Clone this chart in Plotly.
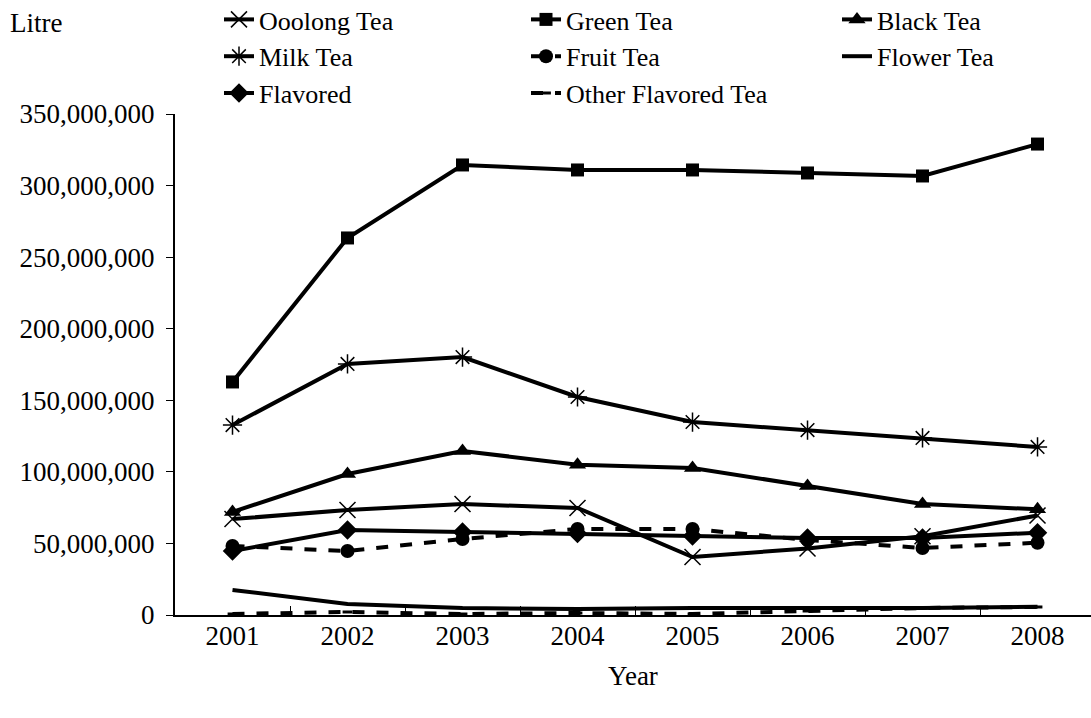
import plotly.graph_objects as go

years = ["2001", "2002", "2003", "2004", "2005", "2006", "2007", "2008"]

oolong_tea = [67.0e6, 73.4e6, 77.5e6, 74.8e6, 40.5e6, 46.5e6, 55.0e6, 69.5e6]
green_tea = [162.8e6, 263.4e6, 314.4e6, 310.9e6, 310.9e6, 308.8e6, 306.7e6, 329.0e6]
black_tea = [72.0e6, 98.5e6, 114.6e6, 105.0e6, 102.7e6, 90.1e6, 77.5e6, 73.8e6]
milk_tea = [132.7e6, 175.4e6, 180.2e6, 152.3e6, 134.8e6, 129.2e6, 123.7e6, 117.4e6]
fruit_tea = [48.2e6, 44.7e6, 53.1e6, 60.1e6, 60.1e6, 52.4e6, 46.8e6, 50.5e6]
flower_tea = [17.5e6, 7.7e6, 4.9e6, 4.2e6, 4.9e6, 4.9e6, 4.9e6, 5.8e6]
flavored = [44.7e6, 59.4e6, 58.0e6, 56.9e6, 55.2e6, 53.8e6, 53.8e6, 57.5e6]
other_flavored_tea = [0.7e6, 2.1e6, 0.7e6, 1.4e6, 0.7e6, 2.8e6, 4.9e6, 5.6e6]

FONT = "Liberation Serif, Times New Roman, serif"
FS = 27
LEG_FS = 26
BLACK = "#000000"

# name, values, line dash, marker, legend column
series = [
    ("Ooolong Tea", oolong_tea, "solid",
     dict(symbol="x-thin-open", size=16, line=dict(color=BLACK, width=1.5)), "legend"),
    ("Green Tea", green_tea, "solid",
     dict(symbol="square", size=13, color=BLACK), "legend2"),
    ("Black Tea", black_tea, "solid",
     dict(symbol="triangle-up", size=15, color=BLACK), "legend3"),
    ("Milk Tea", milk_tea, "solid",
     dict(symbol="asterisk-open", size=16, line=dict(color=BLACK, width=1.5)), "legend"),
    ("Fruit Tea", fruit_tea, "dash",
     dict(symbol="circle", size=14, color=BLACK), "legend2"),
    ("Flower Tea", flower_tea, "solid", None, "legend3"),
    ("Flavored", flavored, "solid",
     dict(symbol="diamond", size=15, color=BLACK), "legend"),
    ("Other Flavored Tea", other_flavored_tea, "dash",
     dict(symbol="line-ew-open", size=7, line=dict(color="#0000ff", width=3)), "legend2"),
]

fig = go.Figure()
for name, vals, dash, marker, leg in series:
    fig.add_trace(go.Scatter(
        x=years, y=vals, name=name, legend=leg,
        mode="lines+markers" if marker else "lines",
        line=dict(color=BLACK, width=4, dash=dash),
        marker=marker,
        cliponaxis=False,
    ))

L, T, B = 175, 114, 103
PLOT_W = 1091 - L
PLOT_H = 718 - T - B


def px_x(px):
    return (px - L) / PLOT_W


def px_y(px):
    return 1 + (T - px) / PLOT_H


def legend_box(left_px):
    return dict(
        orientation="v", x=px_x(left_px), xanchor="left",
        y=px_y(-4), yanchor="top",
        font=dict(family=FONT, size=LEG_FS, color=BLACK),
        itemwidth=30, tracegroupgap=0, borderwidth=0,
        bgcolor="rgba(0,0,0,0)",
    )


fig.update_layout(
    width=1091, height=718,
    margin=dict(l=L, r=0, t=T, b=B, autoexpand=False),
    paper_bgcolor="white", plot_bgcolor="white",
    font=dict(family=FONT, size=FS, color=BLACK),
    showlegend=True,
    legend=legend_box(219),
    legend2=legend_box(526),
    legend3=legend_box(837),
    xaxis=dict(
        type="category", range=[-0.5, 7.465],
        showline=True, linecolor=BLACK, linewidth=2,
        ticks="inside", tickson="boundaries", ticklen=9, tickcolor=BLACK, tickwidth=1,
        showgrid=False, zeroline=False, ticklabelstandoff=-4,
        tickfont=dict(family=FONT, size=FS, color=BLACK),
        title=dict(text="Year", font=dict(family=FONT, size=FS, color=BLACK), standoff=16),
    ),
    yaxis=dict(
        range=[0, 350e6], dtick=50e6, tickformat=",d",
        showline=True, linecolor=BLACK, linewidth=2,
        ticks="outside", ticklen=7, tickcolor=BLACK, tickwidth=1,
        showgrid=False, zeroline=False, ticklabelstandoff=6,
        tickfont=dict(family=FONT, size=FS, color=BLACK),
    ),
)

# unit label at the top-left corner
fig.add_annotation(
    text="Litre", xref="paper", yref="paper",
    x=px_x(8), y=px_y(23),
    xanchor="left", yanchor="middle", showarrow=False,
    font=dict(family=FONT, size=FS, color=BLACK),
)

fig.write_html("out.html")
